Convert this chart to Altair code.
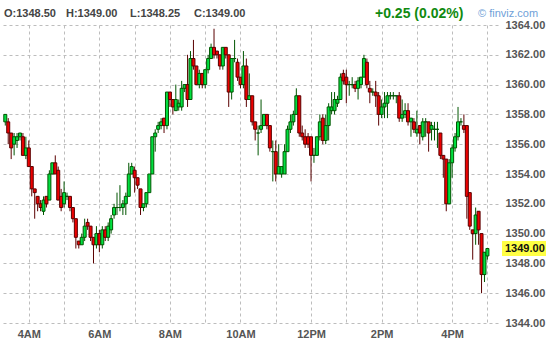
import json
import altair as alt
import pandas as pd

# ---- data (5-minute candles, 3:20 -> 17:00) ----
opens = [
    1357.5, 1357.5, 1356.75, 1356.0, 1356.25, 1356.5, 1356.5, 1355.25, 1355.75, 1354.5,
    1353.0, 1352.5, 1352.0, 1351.5, 1352.5, 1352.25, 1354.0, 1354.75, 1354.25, 1352.5,
    1352.0, 1352.5, 1352.5, 1351.75, 1351.0, 1349.5, 1349.25, 1349.75, 1350.75, 1350.5,
    1349.75, 1349.25, 1350.0, 1349.25, 1350.25, 1349.75, 1350.25, 1351.25, 1351.75, 1351.75,
    1351.75, 1352.0, 1352.5, 1354.0, 1354.25, 1353.75, 1353.0, 1351.75, 1352.0, 1352.75,
    1354.0, 1356.5, 1357.0, 1357.25, 1357.75, 1357.25, 1359.5, 1359.0, 1358.25, 1358.5,
    1358.5, 1359.75, 1360.0, 1359.0, 1361.75, 1361.25, 1360.0, 1360.75, 1360.0, 1361.0,
    1361.75, 1362.5, 1362.25, 1362.0, 1361.25, 1362.5, 1362.0, 1359.5, 1361.75, 1361.5,
    1360.5, 1360.0, 1361.25, 1359.0, 1359.25, 1357.5, 1356.75, 1357.0, 1357.25, 1358.0,
    1357.25, 1355.5, 1355.5, 1354.0, 1354.0, 1354.0, 1355.5, 1357.0, 1357.5, 1358.0,
    1359.25, 1356.75, 1356.5, 1356.5, 1356.5, 1355.25, 1355.25, 1356.5, 1357.75, 1356.25,
    1357.25, 1358.25, 1358.25, 1358.75, 1359.0, 1360.75, 1360.5, 1360.0, 1360.0, 1360.0,
    1359.75, 1360.0, 1360.5, 1361.5, 1359.75, 1359.5, 1359.5, 1359.25, 1358.0, 1358.5,
    1358.75, 1359.25, 1359.25, 1359.25, 1359.25, 1357.75, 1358.0, 1358.25, 1357.5, 1357.5,
    1356.75, 1357.25, 1356.5, 1357.5, 1357.5, 1357.0, 1357.0, 1357.0, 1356.75, 1355.25,
    1355.0, 1352.0, 1354.75, 1355.75, 1356.5, 1357.5, 1357.25, 1357.25, 1352.75, 1350.25,
    1350.0, 1351.5, 1350.0, 1347.25, 1348.5,
]
highs = [
    1358.0, 1357.75, 1356.75, 1356.75, 1356.75, 1356.75, 1356.75, 1356.5, 1356.25, 1354.5,
    1353.0, 1352.5, 1352.25, 1352.5, 1352.5, 1354.25, 1354.75, 1355.25, 1354.5, 1353.0,
    1353.5, 1352.75, 1352.5, 1351.75, 1351.0, 1349.5, 1350.0, 1351.0, 1351.0, 1350.5,
    1349.75, 1350.5, 1350.25, 1350.5, 1350.5, 1350.75, 1351.25, 1352.0, 1352.75, 1353.25,
    1352.25, 1352.75, 1354.75, 1354.75, 1354.5, 1353.75, 1353.0, 1352.0, 1352.75, 1354.0,
    1356.5, 1357.0, 1357.5, 1357.75, 1357.75, 1359.5, 1359.5, 1359.0, 1360.0, 1359.0,
    1360.25, 1360.0, 1362.0, 1362.25, 1363.0, 1361.25, 1361.0, 1360.75, 1361.0, 1362.0,
    1362.75, 1363.75, 1362.25, 1362.0, 1362.5, 1362.5, 1362.0, 1361.75, 1363.0, 1361.75,
    1360.5, 1362.25, 1361.75, 1360.75, 1359.25, 1357.5, 1357.25, 1359.0, 1358.0, 1358.0,
    1357.25, 1356.25, 1356.25, 1356.0, 1354.5, 1356.0, 1357.25, 1358.0, 1358.25, 1359.75,
    1359.25, 1357.25, 1357.0, 1356.75, 1356.5, 1355.75, 1356.5, 1358.0, 1358.0, 1358.0,
    1358.75, 1359.5, 1359.5, 1359.25, 1360.75, 1361.0, 1361.0, 1360.25, 1360.5, 1360.25,
    1360.5, 1360.5, 1362.0, 1361.75, 1360.25, 1359.75, 1360.25, 1359.5, 1359.0, 1359.5,
    1359.5, 1359.5, 1359.5, 1359.25, 1359.5, 1359.0, 1358.75, 1358.75, 1357.75, 1357.75,
    1358.25, 1357.25, 1357.75, 1357.75, 1357.5, 1357.5, 1357.5, 1357.5, 1356.75, 1355.25,
    1355.0, 1355.0, 1356.0, 1356.75, 1358.5, 1357.75, 1358.0, 1357.25, 1352.75, 1350.25,
    1351.75, 1351.5, 1350.0, 1348.75, 1349.0,
]
lows = [
    1357.25, 1356.0, 1355.0, 1355.25, 1355.75, 1356.25, 1355.25, 1355.0, 1354.5, 1352.5,
    1351.0, 1351.5, 1351.5, 1351.25, 1351.75, 1352.25, 1354.0, 1354.0, 1352.25, 1351.5,
    1351.75, 1352.25, 1351.5, 1350.75, 1349.0, 1349.0, 1349.25, 1349.5, 1350.25, 1349.5,
    1348.0, 1349.0, 1348.75, 1349.0, 1349.5, 1349.5, 1350.0, 1351.0, 1351.25, 1351.5,
    1351.25, 1351.25, 1352.5, 1354.0, 1352.75, 1353.0, 1351.25, 1351.5, 1351.75, 1352.75,
    1354.0, 1355.5, 1356.75, 1357.0, 1356.75, 1357.0, 1358.5, 1358.0, 1358.25, 1358.25,
    1358.25, 1359.5, 1358.5, 1359.0, 1361.0, 1360.0, 1359.75, 1359.75, 1359.75, 1360.75,
    1361.75, 1361.75, 1361.75, 1361.0, 1361.0, 1361.75, 1358.5, 1359.0, 1361.5, 1360.25,
    1359.75, 1359.75, 1358.5, 1359.0, 1357.25, 1356.25, 1355.25, 1356.75, 1357.25, 1357.0,
    1355.5, 1353.5, 1353.5, 1354.0, 1353.75, 1354.0, 1355.5, 1356.75, 1357.25, 1358.0,
    1356.5, 1356.25, 1355.75, 1355.75, 1353.5, 1354.75, 1355.25, 1356.25, 1356.0, 1356.0,
    1356.25, 1358.0, 1358.0, 1358.5, 1359.0, 1360.0, 1358.75, 1359.25, 1359.75, 1359.5,
    1359.0, 1359.75, 1360.5, 1359.75, 1358.75, 1359.25, 1358.5, 1357.25, 1357.75, 1357.75,
    1357.75, 1359.0, 1359.0, 1358.75, 1357.5, 1357.5, 1357.75, 1357.25, 1356.5, 1356.75,
    1356.5, 1356.0, 1356.25, 1356.5, 1355.5, 1356.25, 1356.25, 1355.75, 1355.0, 1353.75,
    1351.5, 1352.0, 1353.75, 1355.5, 1356.25, 1357.25, 1356.75, 1351.0, 1350.25, 1348.25,
    1349.25, 1349.25, 1346.0, 1346.75, 1348.25,
]
closes = [
    1358.0, 1356.75, 1355.75, 1356.5, 1356.5, 1356.75, 1355.25, 1355.75, 1354.5, 1353.0,
    1352.75, 1352.0, 1351.75, 1352.25, 1352.0, 1354.0, 1354.75, 1354.0, 1352.25, 1351.75,
    1352.75, 1352.5, 1351.75, 1351.0, 1349.75, 1349.25, 1349.75, 1350.5, 1350.5, 1349.75,
    1349.25, 1350.0, 1349.25, 1350.25, 1349.75, 1350.5, 1351.0, 1351.75, 1351.75, 1351.75,
    1352.0, 1352.5, 1354.0, 1354.5, 1353.75, 1353.25, 1351.75, 1352.0, 1352.75, 1354.0,
    1356.5, 1356.75, 1357.25, 1357.5, 1357.25, 1359.5, 1359.0, 1358.5, 1359.0, 1358.75,
    1359.75, 1360.0, 1359.0, 1361.75, 1361.25, 1360.0, 1360.75, 1360.0, 1361.0, 1361.75,
    1362.5, 1362.0, 1362.0, 1361.25, 1362.5, 1362.0, 1359.5, 1361.75, 1361.75, 1360.5,
    1360.0, 1361.25, 1359.0, 1359.25, 1357.5, 1357.0, 1356.75, 1357.25, 1358.0, 1357.25,
    1355.75, 1355.5, 1354.0, 1354.5, 1354.5, 1355.5, 1357.0, 1357.5, 1358.0, 1359.25,
    1356.75, 1356.5, 1356.0, 1356.0, 1355.25, 1355.25, 1356.5, 1357.5, 1356.25, 1357.25,
    1358.5, 1358.5, 1359.0, 1359.0, 1360.5, 1360.25, 1360.0, 1360.0, 1360.0, 1359.75,
    1360.25, 1360.5, 1361.75, 1360.0, 1359.5, 1359.5, 1359.25, 1358.0, 1358.5, 1358.75,
    1359.25, 1359.25, 1359.25, 1359.25, 1357.75, 1358.0, 1358.25, 1357.5, 1357.75, 1357.0,
    1357.0, 1356.75, 1357.5, 1357.5, 1356.75, 1357.25, 1357.0, 1357.0, 1355.25, 1355.0,
    1352.0, 1354.75, 1355.75, 1356.5, 1357.5, 1357.5, 1357.0, 1352.5, 1350.5, 1350.0,
    1351.25, 1350.25, 1347.25, 1348.75, 1349.0,
]
start_hour = 3 + 20 / 60   # first candle at 3:20
step_minutes = 5

change = 0.25
change_pct = 0.02

grid_hours = list(range(4, 18))
label_hours = [4, 6, 8, 10, 12, 14, 16]
label_texts = ["4AM", "6AM", "8AM", "10AM", "12PM", "2PM", "4PM"]
price_ticks = [1344, 1346, 1348, 1350, 1352, 1354, 1356, 1358, 1360, 1362, 1364]

# ---- table ----
times = [start_hour + i * step_minutes / 60 for i in range(len(opens))]
df = pd.DataFrame({"t": times, "o": opens, "h": highs, "l": lows, "c": closes})
df["dir"] = ["up" if c >= o else "down" for o, c in zip(opens, closes)]

FONT = "Liberation Sans"
W, H = 498, 298

label_expr = (
    f"indexof({json.dumps(label_hours)}, datum.value) >= 0 ? "
    f"{json.dumps(label_texts)}[indexof({json.dumps(label_hours)}, datum.value)] : ''"
)

xscale = alt.Scale(domain=[4 - 24.3 / 36, 4 - 24.3 / 36 + W / 36], nice=False, zero=False)
yscale = alt.Scale(domain=[1344, 1364], nice=False, zero=False)

xaxis = alt.Axis(
    values=grid_hours, labelExpr=label_expr, grid=True, gridDash=[3, 3],
    gridColor="#bdbdbd", gridWidth=1, domain=False, ticks=False,
    labelPadding=5, labelFont=FONT, labelFontSize=11, labelColor="#555555",
    labelFontWeight="bold", labelFlush=False, labelOverlap=False, title=None,
)
yaxis = alt.Axis(
    orient="right", values=price_ticks, format=".2f", grid=True, gridDash=[3, 3],
    gridColor="#bdbdbd", gridWidth=1, domain=False, ticks=False,
    labelPadding=7, labelFont=FONT, labelFontSize=11, labelColor="#555555",
    labelFontWeight="bold", labelFlush=False, labelOverlap=False, labelBound=False,
    title=None,
)

stroke_scale = alt.Scale(domain=["up", "down"], range=["#005500", "#5a0000"])
fill_scale = alt.Scale(domain=["up", "down"], range=["#00e040", "#ee0000"])

base = alt.Chart(df)
wicks = base.mark_rule(strokeWidth=1).encode(
    x=alt.X("t:Q", scale=xscale, axis=xaxis),
    y=alt.Y("l:Q", scale=yscale, axis=yaxis),
    y2="h:Q",
    stroke=alt.Stroke("dir:N", scale=stroke_scale, legend=None),
)
bodies = base.mark_bar(size=3, strokeWidth=1).encode(
    x=alt.X("t:Q", scale=xscale, axis=xaxis),
    y=alt.Y("o:Q", scale=yscale, axis=yaxis),
    y2="c:Q",
    fill=alt.Fill("dir:N", scale=fill_scale, legend=None),
    stroke=alt.Stroke("dir:N", scale=stroke_scale, legend=None),
)

last = pd.DataFrame({"c": [closes[-1]], "txt": [f"{closes[-1]:.2f}"]})
hl_band = alt.Chart(last).mark_rule(strokeWidth=15, color="#ffff44", strokeCap="butt").encode(
    x=alt.value(W + 4), x2=alt.value(W + 48), y=alt.Y("c:Q", scale=yscale, axis=yaxis)
)
hl_text = alt.Chart(last).mark_text(
    align="left", baseline="middle", font=FONT, fontSize=11, fontWeight="bold", color="#111111"
).encode(x=alt.value(W + 7), y=alt.Y("c:Q", scale=yscale, axis=yaxis), text="txt:N")

hdr = pd.DataFrame({
    "txt": [f"O:{opens[-1]:.2f}", f"H:{highs[-1]:.2f}", f"L:{lows[-1]:.2f}", f"C:{closes[-1]:.2f}"],
    "px": [4, 66, 130, 194],
})
header = alt.Chart(hdr).mark_text(
    align="left", baseline="middle", font=FONT, fontSize=11, fontWeight="bold", color="#444444"
).encode(x=alt.X("px:Q", scale=None), y=alt.value(-11), text="txt:N")

chg = pd.DataFrame({"txt": [f"+{change:.2f} ({change_pct:.2f}%)"]})
change_text = alt.Chart(chg).mark_text(
    align="left", baseline="middle", font=FONT, fontSize=14, fontWeight="bold", color="#108a10"
).encode(x=alt.value(375), y=alt.value(-11), text="txt:N")

brand = pd.DataFrame({"txt": ["\u00a9 finviz.com"]})
brand_text = alt.Chart(brand).mark_text(
    align="left", baseline="middle", font=FONT, fontSize=11, color="#6f9fd8"
).encode(x=alt.value(478), y=alt.value(-11), text="txt:N")

chart = alt.layer(
    wicks, bodies, hl_band, hl_text, header, change_text, brand_text
).properties(
    width=W, height=H,
    padding={"left": 0, "top": 25, "right": 52, "bottom": 27},
    autosize=alt.AutoSizeParams(type="none"),
    background="white",
).configure_view(stroke=None).configure_axis(labelOverlap=False)

chart.save("out.html", embed_options={"renderer": "svg", "actions": False})
